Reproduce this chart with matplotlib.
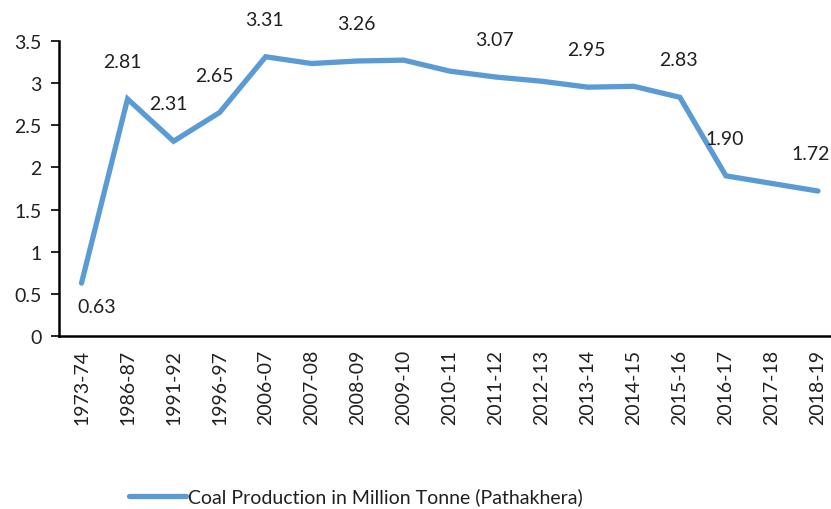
import matplotlib
matplotlib.use("Agg")
import matplotlib.pyplot as plt

# Coal production at Pathakhera, million tonne
years = ["1973-74", "1986-87", "1991-92", "1996-97", "2006-07", "2007-08",
         "2008-09", "2009-10", "2010-11", "2011-12", "2012-13", "2013-14",
         "2014-15", "2015-16", "2016-17", "2017-18", "2018-19"]
production = [0.63, 2.81, 2.31, 2.65, 3.31, 3.23, 3.26, 3.27, 3.14, 3.07,
              3.02, 2.95, 2.96, 2.83, 1.90, 1.81, 1.72]
# which points get a value label
labelled = ["1973-74", "1986-87", "1991-92", "1996-97", "2006-07", "2008-09",
            "2011-12", "2013-14", "2015-16", "2016-17", "2018-19"]
yticks = [0, 0.5, 1, 1.5, 2, 2.5, 3, 3.5]
yticklabels = ["0", "0.5", "1", "1.5", "2", "2.5", "3", "3.5"]

plt.rcParams["font.family"] = ["Lato", "DejaVu Sans"]
color = "#5B9BD5"
text_color = "#231F20"

# label placement (points), default is just above the point
nudge = {"1973-74": (11, -17), "1986-87": (-4, 27), "1991-92": (-4, 27),
         "1996-97": (-4, 27), "2018-19": (-5, 27)}

fig = plt.figure(figsize=(8.31, 5.10), dpi=100)
ax = fig.add_axes([0.0704, 0.3386, 0.9416, 0.5796])

x = list(range(len(years)))
ax.plot(x, production, color=color, lw=3.8, solid_capstyle="round",
        solid_joinstyle="miter", label="Coal Production in Million Tonne (Pathakhera)")

for i, (yr, v) in enumerate(zip(years, production)):
    if yr not in labelled:
        continue
    dx, dy = nudge.get(yr, (-1, 27))
    ax.annotate(f"{v:.2f}", (i, v), xytext=(dx, dy), textcoords="offset points",
                ha="center", va="center", fontsize=14, color=text_color,
                annotation_clip=False)

ax.set_xlim(-0.5, len(years) - 0.5)
ax.set_ylim(0, 3.5)
ax.set_yticks(yticks)
ax.set_yticklabels(yticklabels)
ax.set_xticks(x)
ax.set_xticklabels(years, rotation=90)
ax.tick_params(axis="x", length=0, pad=9, labelsize=14, labelcolor=text_color)
ax.tick_params(axis="y", length=6, width=1.2, pad=6, labelsize=14, labelcolor=text_color)

for side in ["top", "right"]:
    ax.spines[side].set_visible(False)
for side in ["left", "bottom"]:
    ax.spines[side].set_linewidth(1.8)
    ax.spines[side].set_color("black")

fig.legend(loc="center", bbox_to_anchor=(356 / 831, 1 - 497.7 / 510), frameon=False,
           fontsize=14, handlelength=2.9, handletextpad=0.1, labelcolor=text_color)

fig.savefig("out.png", dpi=100)
